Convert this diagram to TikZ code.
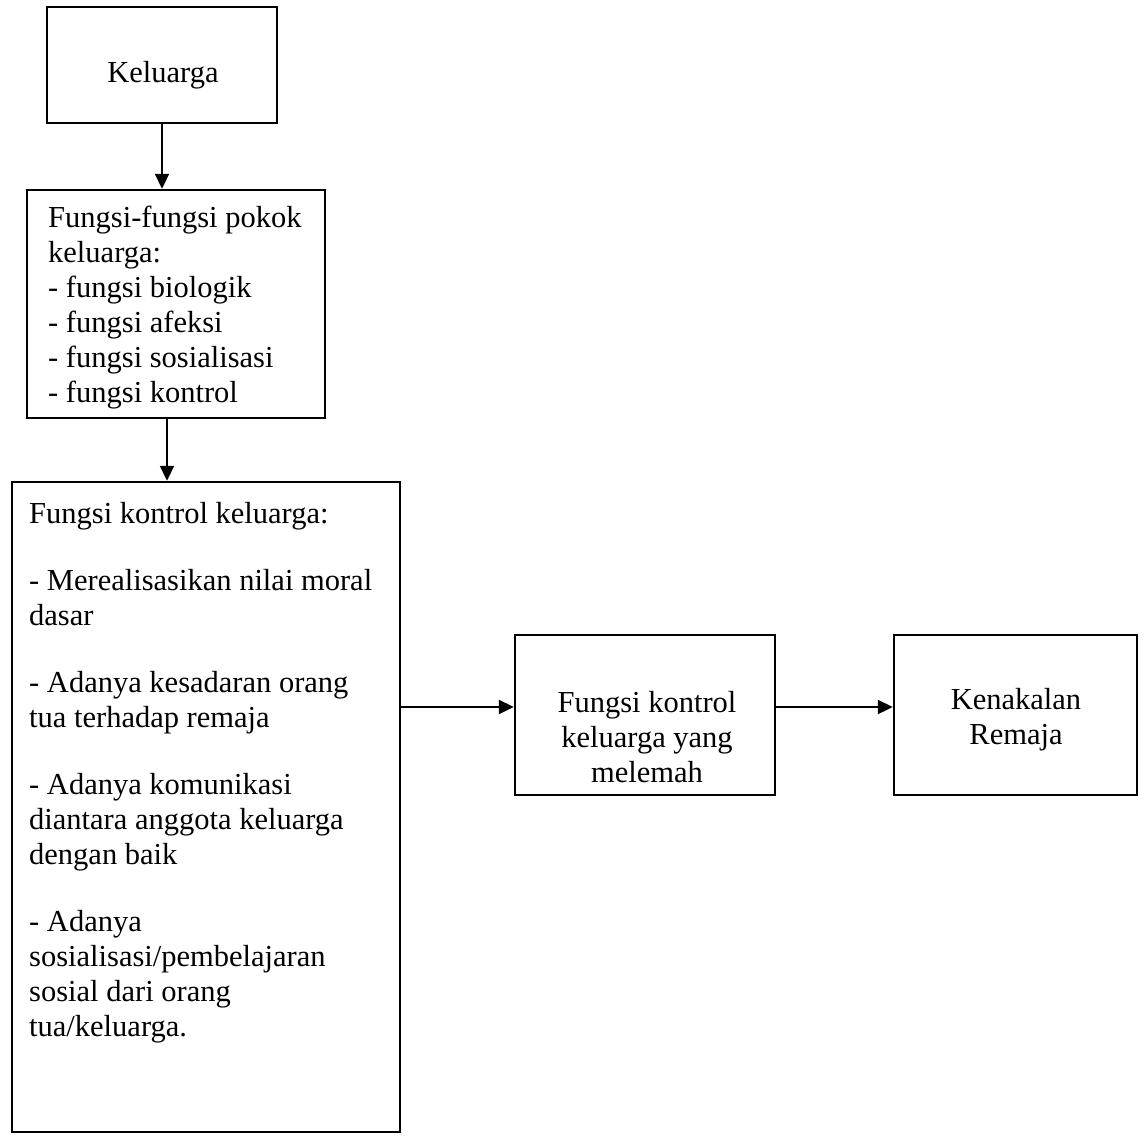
\documentclass[tikz,border=0pt]{standalone}
\usepackage{fontspec}
\setmainfont{Liberation Serif}
\usetikzlibrary{arrows.meta}
\tikzset{
  boxnode/.style={draw=black, line width=2.5pt, rectangle, inner sep=0pt},
  txt/.style={inner sep=0pt, font=\fontsize{30.5}{35}\selectfont},
  ltxt/.style={txt, align=flush left, anchor=base west},
  ctxt/.style={txt, anchor=base},
  arr/.style={line width=2.3pt, -{Triangle[length=15pt,width=14pt]}}
}
\begin{document}
\begin{tikzpicture}[x=1pt,y=-1pt]
\useasboundingbox (0,0) rectangle (1145,1135);
% boxes
\node[boxnode, minimum width=230pt, minimum height=116pt] (kel) at (162,65) {};
\node[boxnode, minimum width=298pt, minimum height=228pt] (fp) at (176,304) {};
\node[boxnode, minimum width=388pt, minimum height=650pt] (fk) at (206,807) {};
\node[boxnode, minimum width=260pt, minimum height=160pt] (mel) at (645,715) {};
\node[boxnode, minimum width=243pt, minimum height=160pt] (ken) at (1015.5,715) {};
% texts
\node[ctxt] (kelt) at (163,82) {Keluarga};
\node[ltxt, text width=285pt] (fpt) at (48,227) {Fungsi-fungsi pokok\\keluarga:\\- fungsi biologik\\- fungsi afeksi\\- fungsi sosialisasi\\- fungsi kontrol};
\node[ltxt, text width=375pt] (fkt) at (29,523) {Fungsi kontrol keluarga:\\[32pt]- Merealisasikan nilai moral\\dasar\\[32pt]- Adanya kesadaran orang\\tua terhadap remaja\\[32pt]- Adanya komunikasi\\diantara anggota keluarga\\dengan baik\\[32pt]- Adanya\\sosialisasi/pembelajaran\\sosial dari orang\\tua/keluarga.};
\node[ctxt] (melt1) at (647,712) {Fungsi kontrol};
\node[ctxt] (melt2) at (647,747) {keluarga yang};
\node[ctxt] (melt3) at (647,782) {melemah};
\node[ctxt] (kent1) at (1016,709) {Kenakalan};
\node[ctxt] (kent2) at (1016,744) {Remaja};
% connectors
\coordinate (a1) at (162,0);
\coordinate (a2) at (167,0);
\coordinate (a3) at (0,707);
\draw[arr] (kel.south -| a1) -- (fp.north -| a1);
\draw[arr] (fp.south -| a2) -- (fk.north -| a2);
\draw[arr] (fk.east |- a3) -- (mel.west |- a3);
\draw[arr] (mel.east |- a3) -- (ken.west |- a3);
\end{tikzpicture}
\end{document}
